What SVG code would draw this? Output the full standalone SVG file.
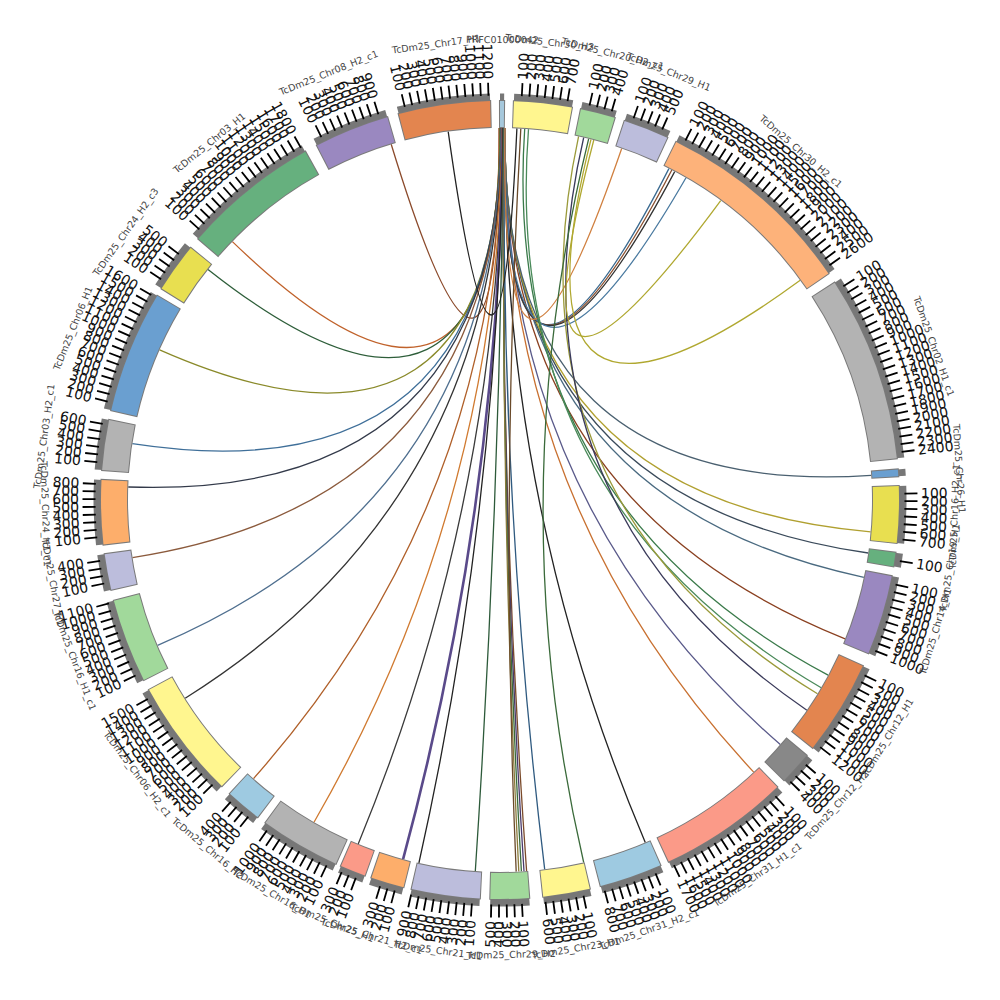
<svg xmlns="http://www.w3.org/2000/svg" width="1000" height="1000" viewBox="0 0 1000 1000">
<style>
.g{stroke:#777;stroke-width:8}
.o{stroke:#7a7a7a;stroke-width:28}
.f{stroke-width:26}
.t{stroke:#000;stroke-width:13}
.n{font-family:"DejaVu Sans",sans-serif;font-size:14px;fill:#111}
.r{text-anchor:start}
.l{text-anchor:end}
.c{font-family:"DejaVu Sans",sans-serif;font-size:9.5px;fill:#444;text-anchor:middle}
#links path{fill:none;stroke-width:1.3}
</style>
<defs>
<circle id="cg" cx="500" cy="500" r="402.5" pathLength="360" fill="none"/>
<circle id="cb" cx="500" cy="500" r="386" pathLength="360" fill="none"/>
<circle id="ct" cx="500" cy="500" r="411" pathLength="360" fill="none"/>
</defs>
<rect width="1000" height="1000" fill="#fff"/>
<g id="links">
<path d="M499,128 Q500,500 391.2,144.3" stroke="#8b4a2b"/>
<path d="M499.5,128 Q500,500 232.4,241.6" stroke="#c0622b"/>
<path d="M500,128 Q500,500 208,269.4" stroke="#2e5e3a"/>
<path d="M500.5,128 Q500,500 159.6,349.9" stroke="#8a8a2a"/>
<path d="M501,128 Q500,500 132.3,443.7" stroke="#3f6f99"/>
<path d="M501,128 Q500,500 128.2,487" stroke="#333a4a"/>
<path d="M501.5,128 Q500,500 132.5,557.6" stroke="#8b5a3c"/>
<path d="M501.5,128 Q500,500 157.6,645.3" stroke="#4f6f8f"/>
<path d="M502,128 Q500,500 185.2,698.2" stroke="#333"/>
<path d="M502,128 Q500,500 253.5,778.6" stroke="#b0602a"/>
<path d="M502.5,128 Q500,500 314,822.2" stroke="#d07a30"/>
<path d="M502.5,128 Q500,500 358.2,843.9" stroke="#3a3a3a"/>
<path d="M503,128 Q500,500 403.1,859.2" stroke="#5a4a8a" style="stroke-width:2.6"/>
<path d="M503,128 Q500,500 418.9,863" stroke="#222"/>
<path d="M503.5,128 Q500,500 475.3,871.2" stroke="#2d5a3a"/>
<path d="M503.5,128 Q500,500 526.6,871.1" stroke="#7a4a2a"/>
<path d="M504,128 Q500,500 524,871.3" stroke="#4a3a6a"/>
<path d="M504,128 Q500,500 521.4,871.4" stroke="#3a6a3a"/>
<path d="M504.5,128 Q500,500 518.8,871.5" stroke="#8a7a3a"/>
<path d="M504.5,128 Q500,500 544.7,869.3" stroke="#2f5a80"/>
<path d="M505,128 Q500,500 645.3,842.4" stroke="#222"/>
<path d="M505,128 Q500,500 753.7,772.1" stroke="#c87030"/>
<path d="M505,128 Q500,500 780.3,744.6" stroke="#5a5a8a"/>
<path d="M505,128 Q500,500 845.1,638.8" stroke="#8a4020"/>
<path d="M505,128 Q500,500 863.9,577.3" stroke="#4a6a80"/>
<path d="M505,128 Q500,500 868.2,553" stroke="#3a4a5a"/>
<path d="M505,128 Q500,500 870.6,531.8" stroke="#b0a030"/>
<path d="M505,128 Q500,500 871.2,475.3" stroke="#4a6070"/>
<path d="M505,128 Q500,500 668.9,168.6" stroke="#3a6a90"/>
<path d="M505,128 Q500,500 671.8,170" stroke="#8a5030"/>
<path d="M505,128 Q500,500 674.7,171.6" stroke="#333"/>
<path d="M505,128 Q500,500 686,177.8" stroke="#4a7aa0"/>
<path d="M505,128 Q500,500 621.7,148.5" stroke="#d08040"/>
<path d="M516.9,128.4 Q500,500 448.2,131.6" stroke="#222"/>
<path d="M520.8,128.6 Q500,500 516.2,871.6" stroke="#6a4a2a"/>
<path d="M524.7,128.8 Q500,500 828.1,675.1" stroke="#3a7a4a"/>
<path d="M528.5,129.1 Q500,500 821.2,687.7" stroke="#4a8a5a"/>
<path d="M578.6,136.4 Q500,500 817.5,693.8" stroke="#9a9a3a"/>
<path d="M583.7,137.5 Q500,500 806.9,710.2" stroke="#3a3a5a"/>
<path d="M588.7,138.7 Q500,500 583.7,862.5" stroke="#3a6a3a"/>
<path d="M593.8,140 Q500,500 720.7,200.6" stroke="#b0a830"/>
<path d="M591,139.3 Q500,500 800.2,280.3" stroke="#b0a830"/>
</g>
<g id="seg-A">
<use href="#cg" class="g" transform="rotate(-90 500 500)" stroke-dasharray="0.6 400"/>
<use href="#cb" class="o" transform="rotate(-90.15 500 500)" stroke-dasharray="0.9 400"/>
<use href="#cb" class="f" stroke="#a6c8dc" transform="rotate(-90 500 500)" stroke-dasharray="0.6 400"/>
<text class="c" transform="rotate(0.3 500 500)" x="500" y="43">PRFC01000042</text>
</g>
<g id="seg-B">
<use href="#cg" class="g" transform="rotate(-88 500 500)" stroke-dasharray="8.4 400"/>
<use href="#cb" class="o" transform="rotate(-88.15 500 500)" stroke-dasharray="8.7 400"/>
<use href="#cb" class="f" stroke="#fff68f" transform="rotate(-88 500 500)" stroke-dasharray="8.4 400"/>
<use href="#ct" class="t" transform="rotate(-87.035 500 500)" stroke-dasharray="0.25 0.84 0.25 0.84 0.25 0.84 0.25 0.84 0.25 0.84 0.25 0.84 0.25 400"/>
<g class="n r">
<text transform="rotate(-86.91 500 500)" x="921" y="505">100</text>
<text transform="rotate(-85.82 500 500)" x="921" y="505">200</text>
<text transform="rotate(-84.73 500 500)" x="921" y="505">300</text>
<text transform="rotate(-83.64 500 500)" x="921" y="505">400</text>
<text transform="rotate(-82.55 500 500)" x="921" y="505">500</text>
<text transform="rotate(-81.46 500 500)" x="921" y="505">600</text>
<text transform="rotate(-80.37 500 500)" x="921" y="505">700</text>
</g>
<text class="c" transform="rotate(6.2 500 500)" x="500" y="43">TcDm25_Chr30_H3</text>
</g>
<g id="seg-C">
<use href="#cg" class="g" transform="rotate(-78.3 500 500)" stroke-dasharray="5 400"/>
<use href="#cb" class="o" transform="rotate(-78.45 500 500)" stroke-dasharray="5.3 400"/>
<use href="#cb" class="f" stroke="#a1d99b" transform="rotate(-78.3 500 500)" stroke-dasharray="5 400"/>
<use href="#ct" class="t" transform="rotate(-77.335 500 500)" stroke-dasharray="0.25 0.84 0.25 0.84 0.25 0.84 0.25 400"/>
<g class="n r">
<text transform="rotate(-77.21 500 500)" x="921" y="505">100</text>
<text transform="rotate(-76.12 500 500)" x="921" y="505">200</text>
<text transform="rotate(-75.03 500 500)" x="921" y="505">300</text>
<text transform="rotate(-73.94 500 500)" x="921" y="505">400</text>
</g>
<text class="c" transform="rotate(14.2 500 500)" x="500" y="43">TcDm25_Chr20_H2_c1</text>
</g>
<g id="seg-D">
<use href="#cg" class="g" transform="rotate(-71.8 500 500)" stroke-dasharray="6.6 400"/>
<use href="#cb" class="o" transform="rotate(-71.95 500 500)" stroke-dasharray="6.9 400"/>
<use href="#cb" class="f" stroke="#bcbddc" transform="rotate(-71.8 500 500)" stroke-dasharray="6.6 400"/>
<use href="#ct" class="t" transform="rotate(-70.835 500 500)" stroke-dasharray="0.25 0.84 0.25 0.84 0.25 0.84 0.25 0.84 0.25 400"/>
<g class="n r">
<text transform="rotate(-70.71 500 500)" x="921" y="505">100</text>
<text transform="rotate(-69.62 500 500)" x="921" y="505">200</text>
<text transform="rotate(-68.53 500 500)" x="921" y="505">300</text>
<text transform="rotate(-67.44 500 500)" x="921" y="505">400</text>
<text transform="rotate(-66.35 500 500)" x="921" y="505">500</text>
</g>
<text class="c" transform="rotate(21.5 500 500)" x="500" y="43">TcDm25_Chr29_H1</text>
</g>
<g id="seg-E">
<use href="#cg" class="g" transform="rotate(-63.8 500 500)" stroke-dasharray="29.2 400"/>
<use href="#cb" class="o" transform="rotate(-63.95 500 500)" stroke-dasharray="29.5 400"/>
<use href="#cb" class="f" stroke="#fdb27a" transform="rotate(-63.8 500 500)" stroke-dasharray="29.2 400"/>
<use href="#ct" class="t" transform="rotate(-62.835 500 500)" stroke-dasharray="0.25 0.84 0.25 0.84 0.25 0.84 0.25 0.84 0.25 0.84 0.25 0.84 0.25 0.84 0.25 0.84 0.25 0.84 0.25 0.84 0.25 0.84 0.25 0.84 0.25 0.84 0.25 0.84 0.25 0.84 0.25 0.84 0.25 0.84 0.25 0.84 0.25 0.84 0.25 0.84 0.25 0.84 0.25 0.84 0.25 0.84 0.25 0.84 0.25 0.84 0.25 400"/>
<g class="n r">
<text transform="rotate(-62.71 500 500)" x="921" y="505">100</text>
<text transform="rotate(-61.62 500 500)" x="921" y="505">200</text>
<text transform="rotate(-60.53 500 500)" x="921" y="505">300</text>
<text transform="rotate(-59.44 500 500)" x="921" y="505">400</text>
<text transform="rotate(-58.35 500 500)" x="921" y="505">500</text>
<text transform="rotate(-57.26 500 500)" x="921" y="505">600</text>
<text transform="rotate(-56.17 500 500)" x="921" y="505">700</text>
<text transform="rotate(-55.08 500 500)" x="921" y="505">800</text>
<text transform="rotate(-53.99 500 500)" x="921" y="505">900</text>
<text transform="rotate(-52.9 500 500)" x="921" y="505">1000</text>
<text transform="rotate(-51.81 500 500)" x="921" y="505">1100</text>
<text transform="rotate(-50.72 500 500)" x="921" y="505">1200</text>
<text transform="rotate(-49.63 500 500)" x="921" y="505">1300</text>
<text transform="rotate(-48.54 500 500)" x="921" y="505">1400</text>
<text transform="rotate(-47.45 500 500)" x="921" y="505">1500</text>
<text transform="rotate(-46.36 500 500)" x="921" y="505">1600</text>
<text transform="rotate(-45.27 500 500)" x="921" y="505">1700</text>
<text transform="rotate(-44.18 500 500)" x="921" y="505">1800</text>
<text transform="rotate(-43.09 500 500)" x="921" y="505">1900</text>
<text transform="rotate(-42 500 500)" x="921" y="505">2000</text>
<text transform="rotate(-40.91 500 500)" x="921" y="505">2100</text>
<text transform="rotate(-39.82 500 500)" x="921" y="505">2200</text>
<text transform="rotate(-38.73 500 500)" x="921" y="505">2300</text>
<text transform="rotate(-37.64 500 500)" x="921" y="505">2400</text>
<text transform="rotate(-36.55 500 500)" x="921" y="505">2500</text>
<text transform="rotate(-35.46 500 500)" x="921" y="505">2600</text>
</g>
<text class="c" transform="rotate(40.8 500 500)" x="500" y="43">TcDm25_Chr30_H2_c1</text>
</g>
<g id="seg-F">
<use href="#cg" class="g" transform="rotate(-33 500 500)" stroke-dasharray="27 400"/>
<use href="#cb" class="o" transform="rotate(-33.15 500 500)" stroke-dasharray="27.3 400"/>
<use href="#cb" class="f" stroke="#b3b3b3" transform="rotate(-33 500 500)" stroke-dasharray="27 400"/>
<use href="#ct" class="t" transform="rotate(-32.035 500 500)" stroke-dasharray="0.25 0.84 0.25 0.84 0.25 0.84 0.25 0.84 0.25 0.84 0.25 0.84 0.25 0.84 0.25 0.84 0.25 0.84 0.25 0.84 0.25 0.84 0.25 0.84 0.25 0.84 0.25 0.84 0.25 0.84 0.25 0.84 0.25 0.84 0.25 0.84 0.25 0.84 0.25 0.84 0.25 0.84 0.25 0.84 0.25 0.84 0.25 400"/>
<g class="n r">
<text transform="rotate(-31.91 500 500)" x="921" y="505">100</text>
<text transform="rotate(-30.82 500 500)" x="921" y="505">200</text>
<text transform="rotate(-29.73 500 500)" x="921" y="505">300</text>
<text transform="rotate(-28.64 500 500)" x="921" y="505">400</text>
<text transform="rotate(-27.55 500 500)" x="921" y="505">500</text>
<text transform="rotate(-26.46 500 500)" x="921" y="505">600</text>
<text transform="rotate(-25.37 500 500)" x="921" y="505">700</text>
<text transform="rotate(-24.28 500 500)" x="921" y="505">800</text>
<text transform="rotate(-23.19 500 500)" x="921" y="505">900</text>
<text transform="rotate(-22.1 500 500)" x="921" y="505">1000</text>
<text transform="rotate(-21.01 500 500)" x="921" y="505">1100</text>
<text transform="rotate(-19.92 500 500)" x="921" y="505">1200</text>
<text transform="rotate(-18.83 500 500)" x="921" y="505">1300</text>
<text transform="rotate(-17.74 500 500)" x="921" y="505">1400</text>
<text transform="rotate(-16.65 500 500)" x="921" y="505">1500</text>
<text transform="rotate(-15.56 500 500)" x="921" y="505">1600</text>
<text transform="rotate(-14.47 500 500)" x="921" y="505">1700</text>
<text transform="rotate(-13.38 500 500)" x="921" y="505">1800</text>
<text transform="rotate(-12.29 500 500)" x="921" y="505">1900</text>
<text transform="rotate(-11.2 500 500)" x="921" y="505">2000</text>
<text transform="rotate(-10.11 500 500)" x="921" y="505">2100</text>
<text transform="rotate(-9.02 500 500)" x="921" y="505">2200</text>
<text transform="rotate(-7.93 500 500)" x="921" y="505">2300</text>
<text transform="rotate(-6.84 500 500)" x="921" y="505">2400</text>
</g>
<text class="c" transform="rotate(70.5 500 500)" x="500" y="43">TcDm25_Chr02_H1_c1</text>
</g>
<g id="seg-G">
<use href="#cg" class="g" transform="rotate(-4.4 500 500)" stroke-dasharray="1 400"/>
<use href="#cb" class="o" transform="rotate(-4.55 500 500)" stroke-dasharray="1.3 400"/>
<use href="#cb" class="f" stroke="#6a9fd0" transform="rotate(-4.4 500 500)" stroke-dasharray="1 400"/>
<text class="c" transform="rotate(86.1 500 500)" x="500" y="43">TcDm25_Chr26_H1</text>
</g>
<g id="seg-H">
<use href="#cg" class="g" transform="rotate(-2 500 500)" stroke-dasharray="8.2 400"/>
<use href="#cb" class="o" transform="rotate(-2.15 500 500)" stroke-dasharray="8.5 400"/>
<use href="#cb" class="f" stroke="#e8df50" transform="rotate(-2 500 500)" stroke-dasharray="8.2 400"/>
<use href="#ct" class="t" transform="rotate(-1.035 500 500)" stroke-dasharray="0.25 0.84 0.25 0.84 0.25 0.84 0.25 0.84 0.25 0.84 0.25 0.84 0.25 400"/>
<g class="n r">
<text transform="rotate(-0.91 500 500)" x="921" y="505">100</text>
<text transform="rotate(0.18 500 500)" x="921" y="505">200</text>
<text transform="rotate(1.27 500 500)" x="921" y="505">300</text>
<text transform="rotate(2.36 500 500)" x="921" y="505">400</text>
<text transform="rotate(3.45 500 500)" x="921" y="505">500</text>
<text transform="rotate(4.54 500 500)" x="921" y="505">600</text>
<text transform="rotate(5.63 500 500)" x="921" y="505">700</text>
</g>
<text class="c" transform="rotate(-87.9 500 500)" x="500" y="958">TcDm25_Chr16_H2_c1</text>
</g>
<g id="seg-I">
<use href="#cg" class="g" transform="rotate(7.6 500 500)" stroke-dasharray="2 400"/>
<use href="#cb" class="o" transform="rotate(7.45 500 500)" stroke-dasharray="2.3 400"/>
<use href="#cb" class="f" stroke="#66b07e" transform="rotate(7.6 500 500)" stroke-dasharray="2 400"/>
<use href="#ct" class="t" transform="rotate(8.565 500 500)" stroke-dasharray="0.25 400"/>
<g class="n r">
<text transform="rotate(8.69 500 500)" x="921" y="505">100</text>
</g>
<text class="c" transform="rotate(-81.4 500 500)" x="500" y="958">TcDm25_Chr19_H1</text>
</g>
<g id="seg-J">
<use href="#cg" class="g" transform="rotate(11 500 500)" stroke-dasharray="11.6 400"/>
<use href="#cb" class="o" transform="rotate(10.85 500 500)" stroke-dasharray="11.9 400"/>
<use href="#cb" class="f" stroke="#9a88c0" transform="rotate(11 500 500)" stroke-dasharray="11.6 400"/>
<use href="#ct" class="t" transform="rotate(11.965 500 500)" stroke-dasharray="0.25 0.84 0.25 0.84 0.25 0.84 0.25 0.84 0.25 0.84 0.25 0.84 0.25 0.84 0.25 0.84 0.25 0.84 0.25 400"/>
<g class="n r">
<text transform="rotate(12.09 500 500)" x="921" y="505">100</text>
<text transform="rotate(13.18 500 500)" x="921" y="505">200</text>
<text transform="rotate(14.27 500 500)" x="921" y="505">300</text>
<text transform="rotate(15.36 500 500)" x="921" y="505">400</text>
<text transform="rotate(16.45 500 500)" x="921" y="505">500</text>
<text transform="rotate(17.54 500 500)" x="921" y="505">600</text>
<text transform="rotate(18.63 500 500)" x="921" y="505">700</text>
<text transform="rotate(19.72 500 500)" x="921" y="505">800</text>
<text transform="rotate(20.81 500 500)" x="921" y="505">900</text>
<text transform="rotate(21.9 500 500)" x="921" y="505">1000</text>
</g>
<text class="c" transform="rotate(-73.2 500 500)" x="500" y="958">TcDm25_Chr14_H1</text>
</g>
<g id="seg-K">
<use href="#cg" class="g" transform="rotate(24.6 500 500)" stroke-dasharray="13.8 400"/>
<use href="#cb" class="o" transform="rotate(24.45 500 500)" stroke-dasharray="14.1 400"/>
<use href="#cb" class="f" stroke="#e3854f" transform="rotate(24.6 500 500)" stroke-dasharray="13.8 400"/>
<use href="#ct" class="t" transform="rotate(25.565 500 500)" stroke-dasharray="0.25 0.84 0.25 0.84 0.25 0.84 0.25 0.84 0.25 0.84 0.25 0.84 0.25 0.84 0.25 0.84 0.25 0.84 0.25 0.84 0.25 0.84 0.25 400"/>
<g class="n r">
<text transform="rotate(25.69 500 500)" x="921" y="505">100</text>
<text transform="rotate(26.78 500 500)" x="921" y="505">200</text>
<text transform="rotate(27.87 500 500)" x="921" y="505">300</text>
<text transform="rotate(28.96 500 500)" x="921" y="505">400</text>
<text transform="rotate(30.05 500 500)" x="921" y="505">500</text>
<text transform="rotate(31.14 500 500)" x="921" y="505">600</text>
<text transform="rotate(32.23 500 500)" x="921" y="505">700</text>
<text transform="rotate(33.32 500 500)" x="921" y="505">800</text>
<text transform="rotate(34.41 500 500)" x="921" y="505">900</text>
<text transform="rotate(35.5 500 500)" x="921" y="505">1000</text>
<text transform="rotate(36.59 500 500)" x="921" y="505">1100</text>
<text transform="rotate(37.68 500 500)" x="921" y="505">1200</text>
</g>
<text class="c" transform="rotate(-58.5 500 500)" x="500" y="958">TcDm25_Chr12_H1</text>
</g>
<g id="seg-L">
<use href="#cg" class="g" transform="rotate(39.8 500 500)" stroke-dasharray="4.8 400"/>
<use href="#cb" class="o" transform="rotate(39.65 500 500)" stroke-dasharray="5.1 400"/>
<use href="#cb" class="f" stroke="#888888" transform="rotate(39.8 500 500)" stroke-dasharray="4.8 400"/>
<use href="#ct" class="t" transform="rotate(40.765 500 500)" stroke-dasharray="0.25 0.84 0.25 0.84 0.25 0.84 0.25 400"/>
<g class="n r">
<text transform="rotate(40.89 500 500)" x="921" y="505">100</text>
<text transform="rotate(41.98 500 500)" x="921" y="505">200</text>
<text transform="rotate(43.07 500 500)" x="921" y="505">300</text>
<text transform="rotate(44.16 500 500)" x="921" y="505">400</text>
</g>
<text class="c" transform="rotate(-47.8 500 500)" x="500" y="958">TcDm25_Chr12_H2</text>
</g>
<g id="seg-M">
<use href="#cg" class="g" transform="rotate(46 500 500)" stroke-dasharray="19 400"/>
<use href="#cb" class="o" transform="rotate(45.85 500 500)" stroke-dasharray="19.3 400"/>
<use href="#cb" class="f" stroke="#fb9a88" transform="rotate(46 500 500)" stroke-dasharray="19 400"/>
<use href="#ct" class="t" transform="rotate(46.965 500 500)" stroke-dasharray="0.25 0.84 0.25 0.84 0.25 0.84 0.25 0.84 0.25 0.84 0.25 0.84 0.25 0.84 0.25 0.84 0.25 0.84 0.25 0.84 0.25 0.84 0.25 0.84 0.25 0.84 0.25 0.84 0.25 0.84 0.25 0.84 0.25 400"/>
<g class="n r">
<text transform="rotate(47.09 500 500)" x="921" y="505">100</text>
<text transform="rotate(48.18 500 500)" x="921" y="505">200</text>
<text transform="rotate(49.27 500 500)" x="921" y="505">300</text>
<text transform="rotate(50.36 500 500)" x="921" y="505">400</text>
<text transform="rotate(51.45 500 500)" x="921" y="505">500</text>
<text transform="rotate(52.54 500 500)" x="921" y="505">600</text>
<text transform="rotate(53.63 500 500)" x="921" y="505">700</text>
<text transform="rotate(54.72 500 500)" x="921" y="505">800</text>
<text transform="rotate(55.81 500 500)" x="921" y="505">900</text>
<text transform="rotate(56.9 500 500)" x="921" y="505">1000</text>
<text transform="rotate(57.99 500 500)" x="921" y="505">1100</text>
<text transform="rotate(59.08 500 500)" x="921" y="505">1200</text>
<text transform="rotate(60.17 500 500)" x="921" y="505">1300</text>
<text transform="rotate(61.26 500 500)" x="921" y="505">1400</text>
<text transform="rotate(62.35 500 500)" x="921" y="505">1500</text>
<text transform="rotate(63.44 500 500)" x="921" y="505">1600</text>
<text transform="rotate(64.53 500 500)" x="921" y="505">1700</text>
</g>
<text class="c" transform="rotate(-34.5 500 500)" x="500" y="958">TcDm25_Chr31_H1_c1</text>
</g>
<g id="seg-N">
<use href="#cg" class="g" transform="rotate(66.3 500 500)" stroke-dasharray="9.1 400"/>
<use href="#cb" class="o" transform="rotate(66.15 500 500)" stroke-dasharray="9.4 400"/>
<use href="#cb" class="f" stroke="#9ecae1" transform="rotate(66.3 500 500)" stroke-dasharray="9.1 400"/>
<use href="#ct" class="t" transform="rotate(67.265 500 500)" stroke-dasharray="0.25 0.84 0.25 0.84 0.25 0.84 0.25 0.84 0.25 0.84 0.25 0.84 0.25 0.84 0.25 400"/>
<g class="n r">
<text transform="rotate(67.39 500 500)" x="921" y="505">100</text>
<text transform="rotate(68.48 500 500)" x="921" y="505">200</text>
<text transform="rotate(69.57 500 500)" x="921" y="505">300</text>
<text transform="rotate(70.66 500 500)" x="921" y="505">400</text>
<text transform="rotate(71.75 500 500)" x="921" y="505">500</text>
<text transform="rotate(72.84 500 500)" x="921" y="505">600</text>
<text transform="rotate(73.93 500 500)" x="921" y="505">700</text>
<text transform="rotate(75.02 500 500)" x="921" y="505">800</text>
</g>
<text class="c" transform="rotate(-19.15 500 500)" x="500" y="958">TcDm25_Chr31_H2_c1</text>
</g>
<g id="seg-O">
<use href="#cg" class="g" transform="rotate(77 500 500)" stroke-dasharray="6.8 400"/>
<use href="#cb" class="o" transform="rotate(76.85 500 500)" stroke-dasharray="7.1 400"/>
<use href="#cb" class="f" stroke="#fff68f" transform="rotate(77 500 500)" stroke-dasharray="6.8 400"/>
<use href="#ct" class="t" transform="rotate(77.965 500 500)" stroke-dasharray="0.25 0.84 0.25 0.84 0.25 0.84 0.25 0.84 0.25 0.84 0.25 400"/>
<g class="n r">
<text transform="rotate(78.09 500 500)" x="921" y="505">100</text>
<text transform="rotate(79.18 500 500)" x="921" y="505">200</text>
<text transform="rotate(80.27 500 500)" x="921" y="505">300</text>
<text transform="rotate(81.36 500 500)" x="921" y="505">400</text>
<text transform="rotate(82.45 500 500)" x="921" y="505">500</text>
<text transform="rotate(83.54 500 500)" x="921" y="505">600</text>
</g>
<text class="c" transform="rotate(-9.6 500 500)" x="500" y="958">TcDm25_Chr23_H1</text>
</g>
<g id="seg-P">
<use href="#cg" class="g" transform="rotate(85.8 500 500)" stroke-dasharray="5.6 400"/>
<use href="#cb" class="o" transform="rotate(85.65 500 500)" stroke-dasharray="5.9 400"/>
<use href="#cb" class="f" stroke="#a1d99b" transform="rotate(85.8 500 500)" stroke-dasharray="5.6 400"/>
<use href="#ct" class="t" transform="rotate(86.765 500 500)" stroke-dasharray="0.25 0.84 0.25 0.84 0.25 0.84 0.25 0.84 0.25 400"/>
<g class="n r">
<text transform="rotate(86.89 500 500)" x="921" y="505">100</text>
<text transform="rotate(87.98 500 500)" x="921" y="505">200</text>
<text transform="rotate(89.07 500 500)" x="921" y="505">300</text>
</g>
<g class="n l">
<text transform="rotate(-89.84 500 500)" x="79" y="505">400</text>
<text transform="rotate(-88.75 500 500)" x="79" y="505">500</text>
</g>
<text class="c" transform="rotate(-1.4 500 500)" x="500" y="958">TcDm25_Chr29_H2</text>
</g>
<g id="seg-Q">
<use href="#cg" class="g" transform="rotate(92.9 500 500)" stroke-dasharray="9.9 400"/>
<use href="#cb" class="o" transform="rotate(92.75 500 500)" stroke-dasharray="10.2 400"/>
<use href="#cb" class="f" stroke="#bcbddc" transform="rotate(92.9 500 500)" stroke-dasharray="9.9 400"/>
<use href="#ct" class="t" transform="rotate(93.865 500 500)" stroke-dasharray="0.25 0.84 0.25 0.84 0.25 0.84 0.25 0.84 0.25 0.84 0.25 0.84 0.25 0.84 0.25 0.84 0.25 400"/>
<g class="n l">
<text transform="rotate(-86.01 500 500)" x="79" y="505">100</text>
<text transform="rotate(-84.92 500 500)" x="79" y="505">200</text>
<text transform="rotate(-83.83 500 500)" x="79" y="505">300</text>
<text transform="rotate(-82.74 500 500)" x="79" y="505">400</text>
<text transform="rotate(-81.65 500 500)" x="79" y="505">500</text>
<text transform="rotate(-80.56 500 500)" x="79" y="505">600</text>
<text transform="rotate(-79.47 500 500)" x="79" y="505">700</text>
<text transform="rotate(-78.38 500 500)" x="79" y="505">800</text>
<text transform="rotate(-77.29 500 500)" x="79" y="505">900</text>
</g>
<text class="c" transform="rotate(7.85 500 500)" x="500" y="958">TcDm25_Chr21_H1</text>
</g>
<g id="seg-R">
<use href="#cg" class="g" transform="rotate(104 500 500)" stroke-dasharray="4.8 400"/>
<use href="#cb" class="o" transform="rotate(103.85 500 500)" stroke-dasharray="5.1 400"/>
<use href="#cb" class="f" stroke="#fdae6b" transform="rotate(104 500 500)" stroke-dasharray="4.8 400"/>
<use href="#ct" class="t" transform="rotate(104.965 500 500)" stroke-dasharray="0.25 0.84 0.25 0.84 0.25 400"/>
<g class="n l">
<text transform="rotate(-74.91 500 500)" x="79" y="505">100</text>
<text transform="rotate(-73.82 500 500)" x="79" y="505">200</text>
<text transform="rotate(-72.73 500 500)" x="79" y="505">300</text>
</g>
<text class="c" transform="rotate(16.4 500 500)" x="500" y="958">TcDm25_Chr21_H2_c1</text>
</g>
<g id="seg-S">
<use href="#cg" class="g" transform="rotate(109.8 500 500)" stroke-dasharray="3.7 400"/>
<use href="#cb" class="o" transform="rotate(109.65 500 500)" stroke-dasharray="4 400"/>
<use href="#cb" class="f" stroke="#fb9a88" transform="rotate(109.8 500 500)" stroke-dasharray="3.7 400"/>
<use href="#ct" class="t" transform="rotate(110.765 500 500)" stroke-dasharray="0.25 0.84 0.25 0.84 0.25 400"/>
<g class="n l">
<text transform="rotate(-69.11 500 500)" x="79" y="505">100</text>
<text transform="rotate(-68.02 500 500)" x="79" y="505">200</text>
<text transform="rotate(-66.93 500 500)" x="79" y="505">300</text>
</g>
<text class="c" transform="rotate(21.65 500 500)" x="500" y="958">TcDm25_Chr25_H1</text>
</g>
<g id="seg-T">
<use href="#cg" class="g" transform="rotate(114.3 500 500)" stroke-dasharray="11.7 400"/>
<use href="#cb" class="o" transform="rotate(114.15 500 500)" stroke-dasharray="12 400"/>
<use href="#cb" class="f" stroke="#b3b3b3" transform="rotate(114.3 500 500)" stroke-dasharray="11.7 400"/>
<use href="#ct" class="t" transform="rotate(115.265 500 500)" stroke-dasharray="0.25 0.84 0.25 0.84 0.25 0.84 0.25 0.84 0.25 0.84 0.25 0.84 0.25 0.84 0.25 0.84 0.25 0.84 0.25 400"/>
<g class="n l">
<text transform="rotate(-64.61 500 500)" x="79" y="505">100</text>
<text transform="rotate(-63.52 500 500)" x="79" y="505">200</text>
<text transform="rotate(-62.43 500 500)" x="79" y="505">300</text>
<text transform="rotate(-61.34 500 500)" x="79" y="505">400</text>
<text transform="rotate(-60.25 500 500)" x="79" y="505">500</text>
<text transform="rotate(-59.16 500 500)" x="79" y="505">600</text>
<text transform="rotate(-58.07 500 500)" x="79" y="505">700</text>
<text transform="rotate(-56.98 500 500)" x="79" y="505">800</text>
<text transform="rotate(-55.89 500 500)" x="79" y="505">900</text>
<text transform="rotate(-54.8 500 500)" x="79" y="505">1000</text>
</g>
<text class="c" transform="rotate(30.15 500 500)" x="500" y="958">TcDm25_Chr16_H1</text>
</g>
<g id="seg-U">
<use href="#cg" class="g" transform="rotate(127.4 500 500)" stroke-dasharray="5.2 400"/>
<use href="#cb" class="o" transform="rotate(127.25 500 500)" stroke-dasharray="5.5 400"/>
<use href="#cb" class="f" stroke="#9ecae1" transform="rotate(127.4 500 500)" stroke-dasharray="5.2 400"/>
<use href="#ct" class="t" transform="rotate(128.365 500 500)" stroke-dasharray="0.25 0.84 0.25 0.84 0.25 0.84 0.25 400"/>
<g class="n l">
<text transform="rotate(-51.51 500 500)" x="79" y="505">100</text>
<text transform="rotate(-50.42 500 500)" x="79" y="505">200</text>
<text transform="rotate(-49.33 500 500)" x="79" y="505">300</text>
<text transform="rotate(-48.24 500 500)" x="79" y="505">400</text>
</g>
<text class="c" transform="rotate(40 500 500)" x="500" y="958">TcDm25_Chr16_H2</text>
</g>
<g id="seg-V">
<use href="#cg" class="g" transform="rotate(134.2 500 500)" stroke-dasharray="17.4 400"/>
<use href="#cb" class="o" transform="rotate(134.05 500 500)" stroke-dasharray="17.7 400"/>
<use href="#cb" class="f" stroke="#fff68f" transform="rotate(134.2 500 500)" stroke-dasharray="17.4 400"/>
<use href="#ct" class="t" transform="rotate(135.165 500 500)" stroke-dasharray="0.25 0.84 0.25 0.84 0.25 0.84 0.25 0.84 0.25 0.84 0.25 0.84 0.25 0.84 0.25 0.84 0.25 0.84 0.25 0.84 0.25 0.84 0.25 0.84 0.25 0.84 0.25 0.84 0.25 400"/>
<g class="n l">
<text transform="rotate(-44.71 500 500)" x="79" y="505">100</text>
<text transform="rotate(-43.62 500 500)" x="79" y="505">200</text>
<text transform="rotate(-42.53 500 500)" x="79" y="505">300</text>
<text transform="rotate(-41.44 500 500)" x="79" y="505">400</text>
<text transform="rotate(-40.35 500 500)" x="79" y="505">500</text>
<text transform="rotate(-39.26 500 500)" x="79" y="505">600</text>
<text transform="rotate(-38.17 500 500)" x="79" y="505">700</text>
<text transform="rotate(-37.08 500 500)" x="79" y="505">800</text>
<text transform="rotate(-35.99 500 500)" x="79" y="505">900</text>
<text transform="rotate(-34.9 500 500)" x="79" y="505">1000</text>
<text transform="rotate(-33.81 500 500)" x="79" y="505">1100</text>
<text transform="rotate(-32.72 500 500)" x="79" y="505">1200</text>
<text transform="rotate(-31.63 500 500)" x="79" y="505">1300</text>
<text transform="rotate(-30.54 500 500)" x="79" y="505">1400</text>
<text transform="rotate(-29.45 500 500)" x="79" y="505">1500</text>
</g>
<text class="c" transform="rotate(52.9 500 500)" x="500" y="958">TcDm25_Chr06_H2_c1</text>
</g>
<g id="seg-W">
<use href="#cg" class="g" transform="rotate(153.2 500 500)" stroke-dasharray="12.2 400"/>
<use href="#cb" class="o" transform="rotate(153.05 500 500)" stroke-dasharray="12.5 400"/>
<use href="#cb" class="f" stroke="#a1d99b" transform="rotate(153.2 500 500)" stroke-dasharray="12.2 400"/>
<use href="#ct" class="t" transform="rotate(154.165 500 500)" stroke-dasharray="0.25 0.84 0.25 0.84 0.25 0.84 0.25 0.84 0.25 0.84 0.25 0.84 0.25 0.84 0.25 0.84 0.25 0.84 0.25 0.84 0.25 400"/>
<g class="n l">
<text transform="rotate(-25.71 500 500)" x="79" y="505">100</text>
<text transform="rotate(-24.62 500 500)" x="79" y="505">200</text>
<text transform="rotate(-23.53 500 500)" x="79" y="505">300</text>
<text transform="rotate(-22.44 500 500)" x="79" y="505">400</text>
<text transform="rotate(-21.35 500 500)" x="79" y="505">500</text>
<text transform="rotate(-20.26 500 500)" x="79" y="505">600</text>
<text transform="rotate(-19.17 500 500)" x="79" y="505">700</text>
<text transform="rotate(-18.08 500 500)" x="79" y="505">800</text>
<text transform="rotate(-16.99 500 500)" x="79" y="505">900</text>
<text transform="rotate(-15.9 500 500)" x="79" y="505">1000</text>
<text transform="rotate(-14.81 500 500)" x="79" y="505">1100</text>
</g>
<text class="c" transform="rotate(69.3 500 500)" x="500" y="958">TcDm25_Chr16_H1_c1</text>
</g>
<g id="seg-X">
<use href="#cg" class="g" transform="rotate(167 500 500)" stroke-dasharray="5.2 400"/>
<use href="#cb" class="o" transform="rotate(166.85 500 500)" stroke-dasharray="5.5 400"/>
<use href="#cb" class="f" stroke="#bcbddc" transform="rotate(167 500 500)" stroke-dasharray="5.2 400"/>
<use href="#ct" class="t" transform="rotate(167.965 500 500)" stroke-dasharray="0.25 0.84 0.25 0.84 0.25 0.84 0.25 400"/>
<g class="n l">
<text transform="rotate(-11.91 500 500)" x="79" y="505">100</text>
<text transform="rotate(-10.82 500 500)" x="79" y="505">200</text>
<text transform="rotate(-9.73 500 500)" x="79" y="505">300</text>
<text transform="rotate(-8.64 500 500)" x="79" y="505">400</text>
</g>
<text class="c" transform="rotate(79.6 500 500)" x="500" y="958">TcDm25_Chr27_H1</text>
</g>
<g id="seg-Y">
<use href="#cg" class="g" transform="rotate(173.6 500 500)" stroke-dasharray="9.3 400"/>
<use href="#cb" class="o" transform="rotate(173.45 500 500)" stroke-dasharray="9.6 400"/>
<use href="#cb" class="f" stroke="#fdae6b" transform="rotate(173.6 500 500)" stroke-dasharray="9.3 400"/>
<use href="#ct" class="t" transform="rotate(174.565 500 500)" stroke-dasharray="0.25 0.84 0.25 0.84 0.25 0.84 0.25 0.84 0.25 0.84 0.25 0.84 0.25 0.84 0.25 400"/>
<g class="n l">
<text transform="rotate(-5.31 500 500)" x="79" y="505">100</text>
<text transform="rotate(-4.22 500 500)" x="79" y="505">200</text>
<text transform="rotate(-3.13 500 500)" x="79" y="505">300</text>
<text transform="rotate(-2.04 500 500)" x="79" y="505">400</text>
<text transform="rotate(-0.95 500 500)" x="79" y="505">500</text>
<text transform="rotate(0.14 500 500)" x="79" y="505">600</text>
<text transform="rotate(1.23 500 500)" x="79" y="505">700</text>
<text transform="rotate(2.32 500 500)" x="79" y="505">800</text>
</g>
<text class="c" transform="rotate(88.25 500 500)" x="500" y="958">TcDm25_Chr24_H1_c1</text>
</g>
<g id="seg-Z">
<use href="#cg" class="g" transform="rotate(184.3 500 500)" stroke-dasharray="7.3 400"/>
<use href="#cb" class="o" transform="rotate(184.15 500 500)" stroke-dasharray="7.6 400"/>
<use href="#cb" class="f" stroke="#b3b3b3" transform="rotate(184.3 500 500)" stroke-dasharray="7.3 400"/>
<use href="#ct" class="t" transform="rotate(185.265 500 500)" stroke-dasharray="0.25 0.84 0.25 0.84 0.25 0.84 0.25 0.84 0.25 0.84 0.25 400"/>
<g class="n l">
<text transform="rotate(5.39 500 500)" x="79" y="505">100</text>
<text transform="rotate(6.48 500 500)" x="79" y="505">200</text>
<text transform="rotate(7.57 500 500)" x="79" y="505">300</text>
<text transform="rotate(8.66 500 500)" x="79" y="505">400</text>
<text transform="rotate(9.75 500 500)" x="79" y="505">500</text>
<text transform="rotate(10.84 500 500)" x="79" y="505">600</text>
</g>
<text class="c" transform="rotate(-82.05 500 500)" x="500" y="43">TcDm25_Chr03_H2_c1</text>
</g>
<g id="seg-AA">
<use href="#cg" class="g" transform="rotate(193 500 500)" stroke-dasharray="17.8 400"/>
<use href="#cb" class="o" transform="rotate(192.85 500 500)" stroke-dasharray="18.1 400"/>
<use href="#cb" class="f" stroke="#6a9fd0" transform="rotate(193 500 500)" stroke-dasharray="17.8 400"/>
<use href="#ct" class="t" transform="rotate(193.965 500 500)" stroke-dasharray="0.25 0.84 0.25 0.84 0.25 0.84 0.25 0.84 0.25 0.84 0.25 0.84 0.25 0.84 0.25 0.84 0.25 0.84 0.25 0.84 0.25 0.84 0.25 0.84 0.25 0.84 0.25 0.84 0.25 0.84 0.25 400"/>
<g class="n l">
<text transform="rotate(14.09 500 500)" x="79" y="505">100</text>
<text transform="rotate(15.18 500 500)" x="79" y="505">200</text>
<text transform="rotate(16.27 500 500)" x="79" y="505">300</text>
<text transform="rotate(17.36 500 500)" x="79" y="505">400</text>
<text transform="rotate(18.45 500 500)" x="79" y="505">500</text>
<text transform="rotate(19.54 500 500)" x="79" y="505">600</text>
<text transform="rotate(20.63 500 500)" x="79" y="505">700</text>
<text transform="rotate(21.72 500 500)" x="79" y="505">800</text>
<text transform="rotate(22.81 500 500)" x="79" y="505">900</text>
<text transform="rotate(23.9 500 500)" x="79" y="505">1000</text>
<text transform="rotate(24.99 500 500)" x="79" y="505">1100</text>
<text transform="rotate(26.08 500 500)" x="79" y="505">1200</text>
<text transform="rotate(27.17 500 500)" x="79" y="505">1300</text>
<text transform="rotate(28.26 500 500)" x="79" y="505">1400</text>
<text transform="rotate(29.35 500 500)" x="79" y="505">1500</text>
<text transform="rotate(30.44 500 500)" x="79" y="505">1600</text>
</g>
<text class="c" transform="rotate(-68.1 500 500)" x="500" y="43">TcDm25_Chr06_H1</text>
</g>
<g id="seg-AB">
<use href="#cg" class="g" transform="rotate(212 500 500)" stroke-dasharray="7.2 400"/>
<use href="#cb" class="o" transform="rotate(211.85 500 500)" stroke-dasharray="7.5 400"/>
<use href="#cb" class="f" stroke="#e8df50" transform="rotate(212 500 500)" stroke-dasharray="7.2 400"/>
<use href="#ct" class="t" transform="rotate(212.965 500 500)" stroke-dasharray="0.25 0.84 0.25 0.84 0.25 0.84 0.25 0.84 0.25 400"/>
<g class="n l">
<text transform="rotate(33.09 500 500)" x="79" y="505">100</text>
<text transform="rotate(34.18 500 500)" x="79" y="505">200</text>
<text transform="rotate(35.27 500 500)" x="79" y="505">300</text>
<text transform="rotate(36.36 500 500)" x="79" y="505">400</text>
<text transform="rotate(37.45 500 500)" x="79" y="505">500</text>
</g>
<text class="c" transform="rotate(-54.4 500 500)" x="500" y="43">TcDm25_Chr24_H2_c3</text>
</g>
<g id="seg-AC">
<use href="#cg" class="g" transform="rotate(220.9 500 500)" stroke-dasharray="19.9 400"/>
<use href="#cb" class="o" transform="rotate(220.75 500 500)" stroke-dasharray="20.2 400"/>
<use href="#cb" class="f" stroke="#66b07e" transform="rotate(220.9 500 500)" stroke-dasharray="19.9 400"/>
<use href="#ct" class="t" transform="rotate(221.865 500 500)" stroke-dasharray="0.25 0.84 0.25 0.84 0.25 0.84 0.25 0.84 0.25 0.84 0.25 0.84 0.25 0.84 0.25 0.84 0.25 0.84 0.25 0.84 0.25 0.84 0.25 0.84 0.25 0.84 0.25 0.84 0.25 0.84 0.25 0.84 0.25 0.84 0.25 400"/>
<g class="n l">
<text transform="rotate(41.99 500 500)" x="79" y="505">100</text>
<text transform="rotate(43.08 500 500)" x="79" y="505">200</text>
<text transform="rotate(44.17 500 500)" x="79" y="505">300</text>
<text transform="rotate(45.26 500 500)" x="79" y="505">400</text>
<text transform="rotate(46.35 500 500)" x="79" y="505">500</text>
<text transform="rotate(47.44 500 500)" x="79" y="505">600</text>
<text transform="rotate(48.53 500 500)" x="79" y="505">700</text>
<text transform="rotate(49.62 500 500)" x="79" y="505">800</text>
<text transform="rotate(50.71 500 500)" x="79" y="505">900</text>
<text transform="rotate(51.8 500 500)" x="79" y="505">1000</text>
<text transform="rotate(52.89 500 500)" x="79" y="505">1100</text>
<text transform="rotate(53.98 500 500)" x="79" y="505">1200</text>
<text transform="rotate(55.07 500 500)" x="79" y="505">1300</text>
<text transform="rotate(56.16 500 500)" x="79" y="505">1400</text>
<text transform="rotate(57.25 500 500)" x="79" y="505">1500</text>
<text transform="rotate(58.34 500 500)" x="79" y="505">1600</text>
<text transform="rotate(59.43 500 500)" x="79" y="505">1700</text>
<text transform="rotate(60.52 500 500)" x="79" y="505">1800</text>
</g>
<text class="c" transform="rotate(-39.15 500 500)" x="500" y="43">TcDm25_Chr03_H1</text>
</g>
<g id="seg-AD">
<use href="#cg" class="g" transform="rotate(242.7 500 500)" stroke-dasharray="10.9 400"/>
<use href="#cb" class="o" transform="rotate(242.55 500 500)" stroke-dasharray="11.2 400"/>
<use href="#cb" class="f" stroke="#9a88c0" transform="rotate(242.7 500 500)" stroke-dasharray="10.9 400"/>
<use href="#ct" class="t" transform="rotate(243.665 500 500)" stroke-dasharray="0.25 0.84 0.25 0.84 0.25 0.84 0.25 0.84 0.25 0.84 0.25 0.84 0.25 0.84 0.25 0.84 0.25 400"/>
<g class="n l">
<text transform="rotate(63.79 500 500)" x="79" y="505">100</text>
<text transform="rotate(64.88 500 500)" x="79" y="505">200</text>
<text transform="rotate(65.97 500 500)" x="79" y="505">300</text>
<text transform="rotate(67.06 500 500)" x="79" y="505">400</text>
<text transform="rotate(68.15 500 500)" x="79" y="505">500</text>
<text transform="rotate(69.24 500 500)" x="79" y="505">600</text>
<text transform="rotate(70.33 500 500)" x="79" y="505">700</text>
<text transform="rotate(71.42 500 500)" x="79" y="505">800</text>
<text transform="rotate(72.51 500 500)" x="79" y="505">900</text>
</g>
<text class="c" transform="rotate(-21.85 500 500)" x="500" y="43">TcDm25_Chr08_H2_c1</text>
</g>
<g id="seg-AE">
<use href="#cg" class="g" transform="rotate(255.3 500 500)" stroke-dasharray="13.3 400"/>
<use href="#cb" class="o" transform="rotate(255.15 500 500)" stroke-dasharray="13.6 400"/>
<use href="#cb" class="f" stroke="#e3854f" transform="rotate(255.3 500 500)" stroke-dasharray="13.3 400"/>
<use href="#ct" class="t" transform="rotate(256.265 500 500)" stroke-dasharray="0.25 0.84 0.25 0.84 0.25 0.84 0.25 0.84 0.25 0.84 0.25 0.84 0.25 0.84 0.25 0.84 0.25 0.84 0.25 0.84 0.25 0.84 0.25 400"/>
<g class="n l">
<text transform="rotate(76.39 500 500)" x="79" y="505">100</text>
<text transform="rotate(77.48 500 500)" x="79" y="505">200</text>
<text transform="rotate(78.57 500 500)" x="79" y="505">300</text>
<text transform="rotate(79.66 500 500)" x="79" y="505">400</text>
<text transform="rotate(80.75 500 500)" x="79" y="505">500</text>
<text transform="rotate(81.84 500 500)" x="79" y="505">600</text>
<text transform="rotate(82.93 500 500)" x="79" y="505">700</text>
<text transform="rotate(84.02 500 500)" x="79" y="505">800</text>
<text transform="rotate(85.11 500 500)" x="79" y="505">900</text>
<text transform="rotate(86.2 500 500)" x="79" y="505">1000</text>
<text transform="rotate(87.29 500 500)" x="79" y="505">1100</text>
<text transform="rotate(88.38 500 500)" x="79" y="505">1200</text>
</g>
<text class="c" transform="rotate(-7.95 500 500)" x="500" y="43">TcDm25_Chr17_H1</text>
</g>
</svg>
